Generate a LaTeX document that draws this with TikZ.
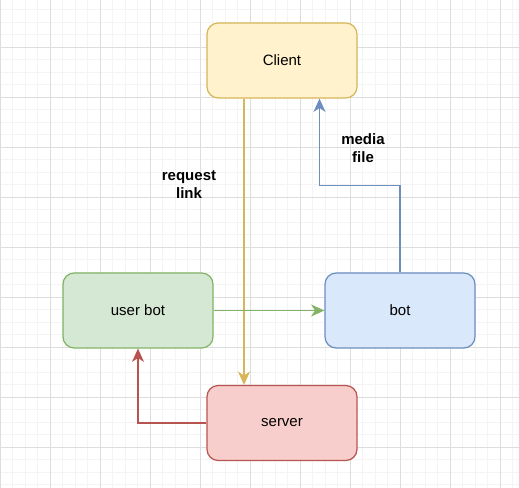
\documentclass[tikz,border=0pt]{standalone}
\usepackage{fontspec}
\setmainfont{Liberation Sans}
\usetikzlibrary{arrows.meta}
\definecolor{ylF}{HTML}{FFF2CC}\definecolor{ylD}{HTML}{D6B656}
\definecolor{grF}{HTML}{D5E8D4}\definecolor{grD}{HTML}{82B366}
\definecolor{blF}{HTML}{DAE8FC}\definecolor{blD}{HTML}{6C8EBF}
\definecolor{rdF}{HTML}{F8CECC}\definecolor{rdD}{HTML}{B85450}
\definecolor{gridminor}{HTML}{F4F4F4}
\definecolor{gridmajor}{HTML}{DDDDDD}
\begin{document}
\begin{tikzpicture}[x=0.75pt,y=-0.75pt,
  box/.style={draw, rounded corners=8.4pt, line width=0.9pt,
    minimum width=112.5pt, minimum height=56.25pt, inner sep=0pt,
    font=\fontsize{11.25pt}{13.5pt}\selectfont},
  conn/.style={line width=0.9pt, -{Stealth[length=10pt,width=9pt,inset=3pt]}},
  lbl/.style={font=\fontsize{11.25pt}{13.5pt}\selectfont\bfseries, align=center, inner sep=0pt}]
\useasboundingbox (0,0) rectangle (519,488);
\fill[white] (0,0) rectangle (519,488);
% grid
\foreach \i in {0,...,41} {\draw[gridminor, line width=0.75pt] (\i*12.5,0) -- (\i*12.5,488);}
\foreach \i in {0,...,38} {\draw[gridminor, line width=0.75pt] (0,10+\i*12.5) -- (519,10+\i*12.5);}
\foreach \i in {0,...,10} {\draw[gridmajor, line width=0.75pt] (\i*50,0) -- (\i*50,488);}
\foreach \i in {0,...,9} {\draw[gridmajor, line width=0.75pt] (0,47.5+\i*50) -- (519,47.5+\i*50);}
% nodes
\node[box, fill=ylF, draw=ylD] (client) at (282,60.5) {Client};
\node[box, fill=grF, draw=grD] (userbot) at (138,310.5) {user bot};
\node[box, fill=blF, draw=blD] (bot) at (400,310.5) {bot};
\node[box, fill=rdF, draw=rdD] (server) at (282,423) {server};
\coordinate (yl) at (244,0);
\coordinate (bl) at (319.5,185.5);
% connectors
\draw[conn, draw=ylD] (client.south -| yl) -- (server.north -| yl);
\draw[conn, draw=grD] (userbot.east) -- (bot.west);
\draw[conn, draw=rdD] (server.west) -| (userbot.south);
\draw[conn, draw=blD] (bot.north) |- (bl) -- (bl |- client.south);
% labels
\node[lbl] (lreq) at (189,185) {request\\link};
\node[lbl] (lmed) at (363,148) {media\\file};
\end{tikzpicture}
\end{document}
